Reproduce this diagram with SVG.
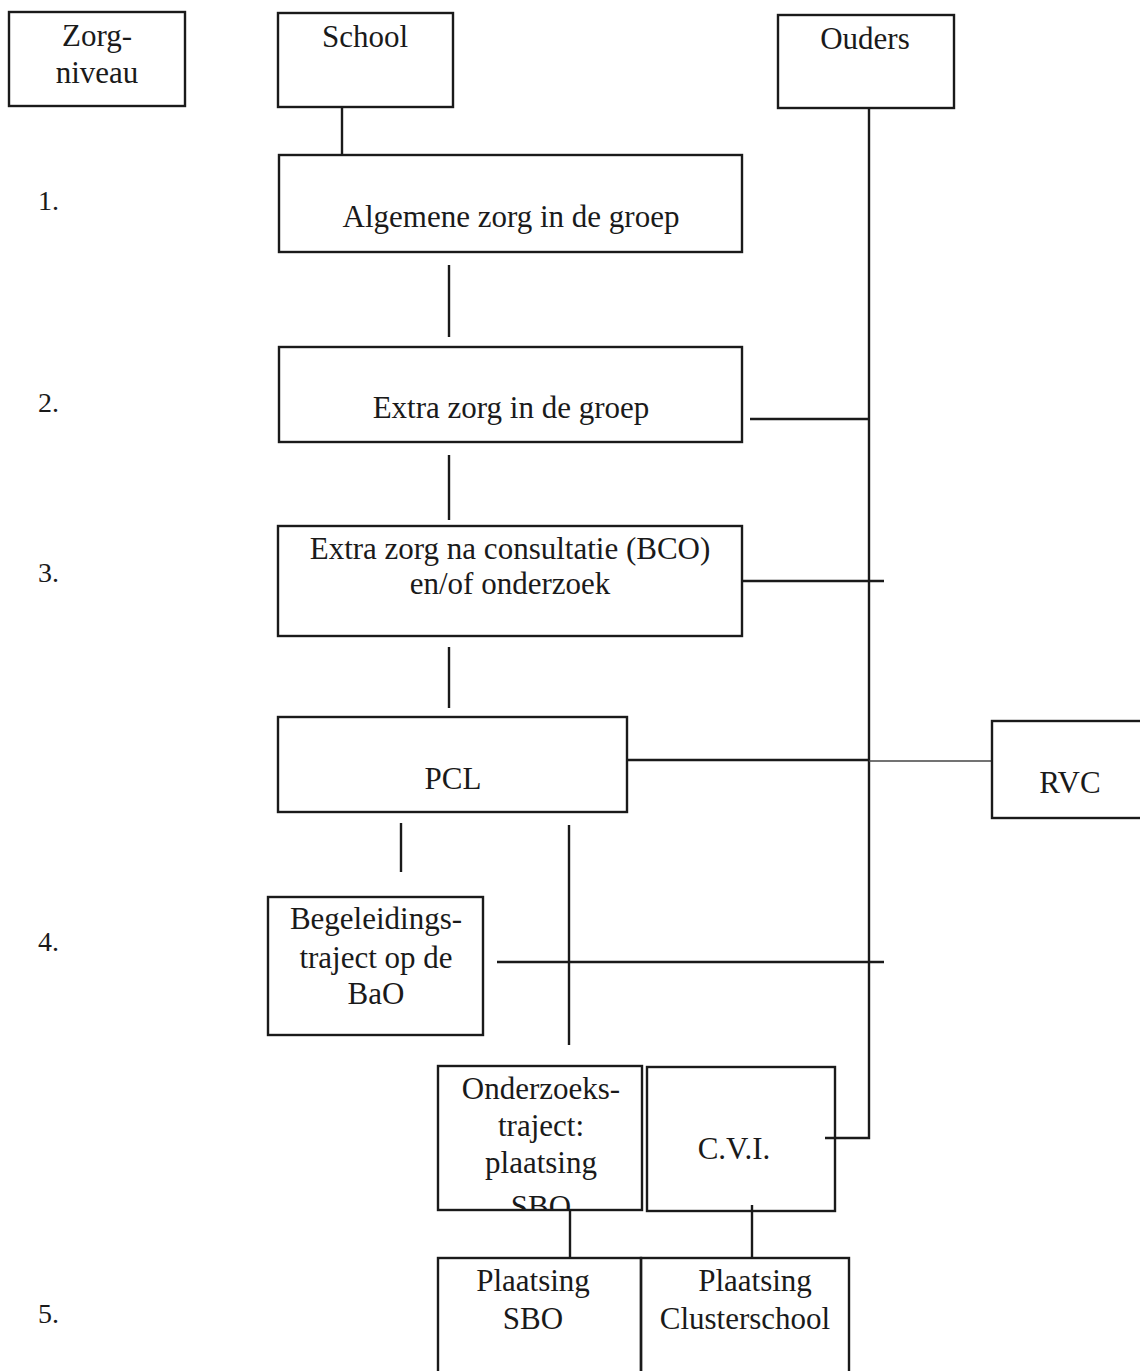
<svg xmlns="http://www.w3.org/2000/svg" width="1140" height="1371" viewBox="0 0 1140 1371">
<style>
.box{fill:none;stroke:#1a1a1a;stroke-width:2.4}
.ln{fill:none;stroke:#1a1a1a;stroke-width:2.4}
.thin{fill:none;stroke:#444;stroke-width:1.3}
text{font-family:"Liberation Serif","Times New Roman",serif;font-size:31px;fill:#1a1a1a;text-anchor:middle}
.num{text-anchor:start;font-size:28px}
</style>
<defs>
<clipPath id="clipOz"><rect x="438" y="1066" width="204" height="144"/></clipPath>
</defs>
<rect width="1140" height="1371" fill="#fff"/>
<g id="connectors">
<line class="ln" x1="342" y1="107" x2="342" y2="155"/>
<line class="ln" x1="449" y1="265" x2="449" y2="337"/>
<line class="ln" x1="449" y1="455" x2="449" y2="520"/>
<line class="ln" x1="449" y1="647" x2="449" y2="708"/>
<polyline class="ln" points="869,108 869,1138 825,1138"/>
<line class="ln" x1="750" y1="419" x2="869" y2="419"/>
<line class="ln" x1="742" y1="581" x2="884" y2="581"/>
<line class="ln" x1="627" y1="760" x2="869" y2="760"/>
<line class="thin" x1="869" y1="761" x2="992" y2="761"/>
<line class="ln" x1="401" y1="823" x2="401" y2="872"/>
<line class="ln" x1="569" y1="825" x2="569" y2="1045"/>
<line class="ln" x1="497" y1="962" x2="884" y2="962"/>
<line class="ln" x1="570" y1="1210" x2="570" y2="1258"/>
<line class="ln" x1="752" y1="1205" x2="752" y2="1258"/>
</g>
<g id="zorgniveau">
<rect class="box" x="9" y="12" width="176" height="94"/>
<text x="97" y="46">Zorg-</text>
<text x="97" y="83">niveau</text>
</g>
<g id="levels">
<text class="num" x="38" y="210">1.</text>
<text class="num" x="38" y="412">2.</text>
<text class="num" x="38" y="582">3.</text>
<text class="num" x="38" y="951">4.</text>
<text class="num" x="38" y="1323">5.</text>
</g>
<g id="school">
<rect class="box" x="278" y="13" width="175" height="94"/>
<text x="365" y="47">School</text>
</g>
<g id="ouders">
<rect class="box" x="778" y="15" width="176" height="93"/>
<text x="865" y="49">Ouders</text>
</g>
<g id="algemene">
<rect class="box" x="279" y="155" width="463" height="97"/>
<text x="511" y="227">Algemene zorg in de groep</text>
</g>
<g id="extra">
<rect class="box" x="279" y="347" width="463" height="95"/>
<text x="511" y="418">Extra zorg in de groep</text>
</g>
<g id="consultatie">
<rect class="box" x="278" y="526" width="464" height="110"/>
<text x="510" y="559">Extra zorg na consultatie (BCO)</text>
<text x="510" y="594">en/of onderzoek</text>
</g>
<g id="pcl">
<rect class="box" x="278" y="717" width="349" height="95"/>
<text x="453" y="789">PCL</text>
</g>
<g id="rvc">
<rect class="box" x="992" y="721" width="160" height="97"/>
<text x="1070" y="793">RVC</text>
</g>
<g id="begeleiding">
<rect class="box" x="268" y="897" width="215" height="138"/>
<text x="376" y="929">Begeleidings-</text>
<text x="376" y="968">traject op de</text>
<text x="376" y="1004">BaO</text>
</g>
<g id="onderzoek">
<rect class="box" x="438" y="1066" width="204" height="144"/>
<g clip-path="url(#clipOz)">
<text x="541" y="1099">Onderzoeks-</text>
<text x="541" y="1136">traject:</text>
<text x="541" y="1173">plaatsing</text>
<text x="541" y="1217">SBO</text>
</g>
</g>
<g id="cvi">
<rect class="box" x="647" y="1067" width="188" height="144"/>
<text x="734" y="1159">C.V.I.</text>
</g>
<g id="plaatsing-sbo">
<rect class="box" x="438" y="1258" width="203" height="120"/>
<text x="533" y="1291">Plaatsing</text>
<text x="533" y="1329">SBO</text>
</g>
<g id="plaatsing-cluster">
<rect class="box" x="641" y="1258" width="208" height="120"/>
<text x="755" y="1291">Plaatsing</text>
<text x="745" y="1329">Clusterschool</text>
</g>
</svg>
